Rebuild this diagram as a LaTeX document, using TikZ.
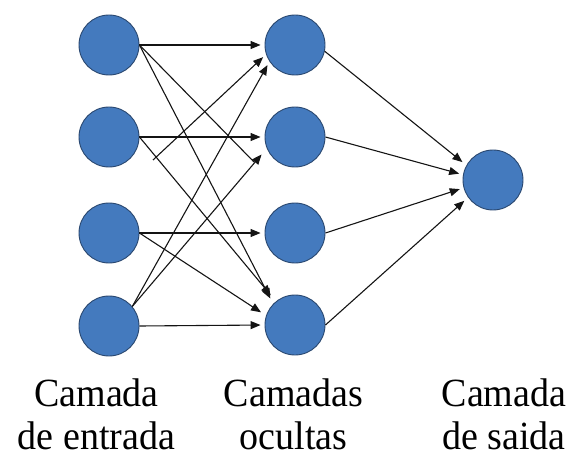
\documentclass[tikz,border=0pt]{standalone}
\usepackage{fontspec}
\newfontfamily\labelfont{Liberation Serif}[FakeStretch=0.95]
\usetikzlibrary{arrows.meta}
\definecolor{nodeblue}{RGB}{68,122,190}
\definecolor{nodeedge}{RGB}{42,72,112}
\definecolor{linecol}{RGB}{20,20,20}
\begin{document}
\begin{tikzpicture}[x=1pt,y=-1pt,
  neuron/.style={circle,fill=nodeblue,draw=nodeedge,line width=0.9pt,minimum size=60pt,inner sep=0pt},
  conn/.style={draw=linecol,line width=1.1pt,-{Triangle[length=10pt,width=8pt]},shorten >=4pt},
  plainconn/.style={draw=linecol,line width=1.1pt},
  lbl/.style={font=\labelfont\fontsize{40}{43}\selectfont,text=black,align=center,anchor=base,inner sep=0pt}]
\useasboundingbox (0,0) rectangle (570,457);
% input layer
\node[neuron] (I1) at (109,45) {};
\node[neuron] (I2) at (109,137) {};
\node[neuron] (I3) at (109,233) {};
\node[neuron] (I4) at (109,326) {};
% hidden layer
\node[neuron] (H1) at (295,45) {};
\node[neuron] (H2) at (295,137) {};
\node[neuron] (H3) at (295,233) {};
\node[neuron] (H4) at (295,325) {};
% output
\node[neuron] (O) at (493,180) {};
% free points
\coordinate (fs) at (153,160);
\coordinate (fi) at (254,162);
% input -> hidden
\draw[conn] (I1.east) -- (H1.west);
\draw[conn,shorten >=6pt] (I1.east) -- (H4.136);
\draw[plainconn] (I1.east) -- (fi);
\draw[conn] (I2.east) -- (H2.west);
\draw[conn,shorten >=8pt] (I2.east) -- (H4.129);
\draw[conn,shorten >=6pt] (I3.east) -- (H4.162);
\draw[conn] (I3.east) -- (H3.west);
\draw[conn] (I4.east) -- (H4.west);
\draw[conn] (I4.40) -- (H1.213);
\draw[conn,shorten >=8pt] (I4.40) -- (H2.202);
\draw[conn] (fs) -- (H1.198);
% hidden -> output
\draw[conn,shorten >=5pt] (H1.-12) -- (O.151);
\draw[conn,shorten >=4pt] (H2.east) -- (O.170);
\draw[conn,shorten >=4pt] (H3.east) -- (O.195);
\draw[conn,shorten >=5pt] (H4.east) -- (O.215);
% labels
\node[lbl] (L1) at (96.5,449) {Camada\\de entrada};
\node[lbl] (L2) at (293.5,449) {Camadas\\ocultas};
\node[lbl] (L3) at (504,449) {Camada\\de saida};
\end{tikzpicture}
\end{document}
